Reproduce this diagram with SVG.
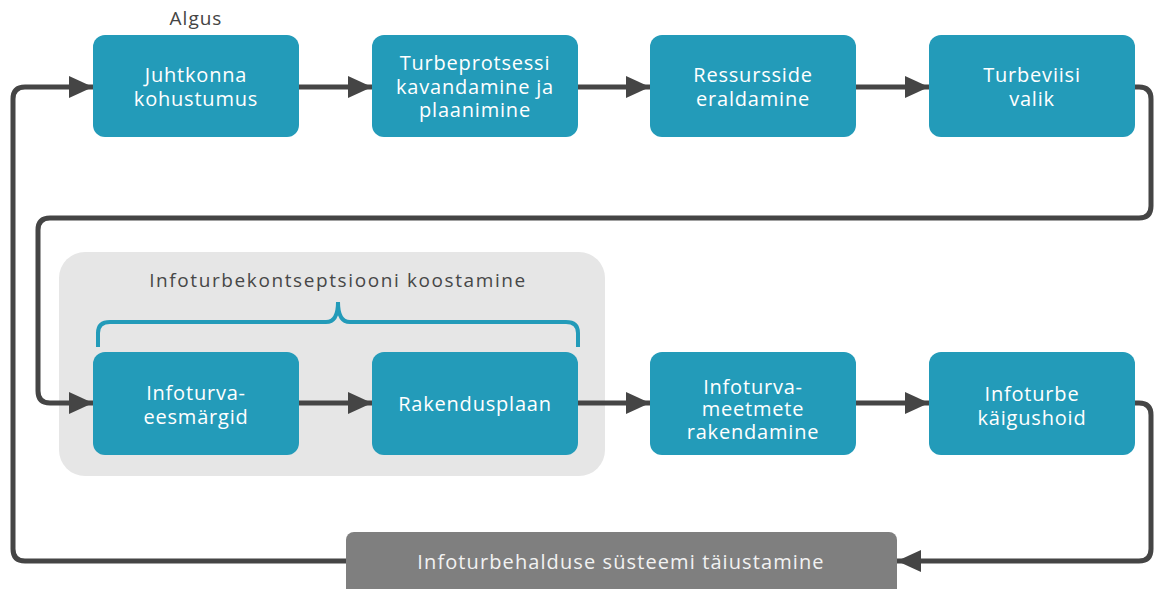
<svg xmlns="http://www.w3.org/2000/svg" width="1155" height="589" viewBox="0 0 1155 589">
<style>
  .node { fill: #239bb9; }
  .lbl { font-family: "Open Sans", "Liberation Sans", sans-serif; font-size: 20px; letter-spacing: 0.8px; fill: #ffffff; text-anchor: middle; }
  .conn { fill: none; stroke: #454545; stroke-width: 5; }
  .title { font-family: "Open Sans", "Liberation Sans", sans-serif; font-size: 19px; letter-spacing: 1.6px; fill: #474747; text-anchor: middle; }
</style>
<defs>
  <marker id="arrow" markerUnits="userSpaceOnUse" markerWidth="24" markerHeight="22" refX="24" refY="11" orient="auto">
    <path d="M0,0 L24,11 L0,22 z" fill="#454545"/>
  </marker>
</defs>
<rect width="1155" height="589" fill="#ffffff"/>

<g id="group-panel">
  <rect x="59" y="252" width="546" height="224" rx="26" fill="#e6e6e6"/>
  <text class="title" x="338" y="287">Infoturbekontseptsiooni koostamine</text>
  <path d="M98,347 V333 Q98,322 110,322 H326 Q338,322 338,302 Q338,322 350,322 H566 Q578,322 578,333 V347" fill="none" stroke="#239bb9" stroke-width="4"/>
</g>

<g id="connectors">
  <path class="conn" d="M347,561 H25 Q13,561 13,549 V99 Q13,87 25,87 H93" marker-end="url(#arrow)"/>
  <path class="conn" d="M299,87 H372" marker-end="url(#arrow)"/>
  <path class="conn" d="M578,87 H650" marker-end="url(#arrow)"/>
  <path class="conn" d="M856,87 H929" marker-end="url(#arrow)"/>
  <path class="conn" d="M1135,87 H1139 Q1151,87 1151,99 V206 Q1151,218 1139,218 H50 Q38,218 38,230 V391 Q38,403 50,403 H93" marker-end="url(#arrow)"/>
  <path class="conn" d="M299,403 H372" marker-end="url(#arrow)"/>
  <path class="conn" d="M578,403 H650" marker-end="url(#arrow)"/>
  <path class="conn" d="M856,403 H929" marker-end="url(#arrow)"/>
  <path class="conn" d="M1135,403 H1139 Q1151,403 1151,415 V549 Q1151,561 1139,561 H897" marker-end="url(#arrow)"/>
</g>

<g id="start-label">
  <text x="196" y="25" font-family="'Open Sans', 'Liberation Sans', sans-serif" font-size="19" letter-spacing="1" fill="#444444" text-anchor="middle">Algus</text>
</g>

<g id="n1">
  <rect class="node" x="93" y="35" width="206" height="102" rx="12"/>
  <text class="lbl" x="196" y="82">Juhtkonna</text>
  <text class="lbl" x="196" y="106">kohustumus</text>
</g>
<g id="n2">
  <rect class="node" x="372" y="35" width="206" height="102" rx="12"/>
  <text class="lbl" x="475" y="70">Turbeprotsessi</text>
  <text class="lbl" x="475" y="94">kavandamine ja</text>
  <text class="lbl" x="475" y="117">plaanimine</text>
</g>
<g id="n3">
  <rect class="node" x="650" y="35" width="206" height="102" rx="12"/>
  <text class="lbl" x="753" y="82">Ressursside</text>
  <text class="lbl" x="753" y="106">eraldamine</text>
</g>
<g id="n4">
  <rect class="node" x="929" y="35" width="206" height="102" rx="12"/>
  <text class="lbl" x="1032" y="82">Turbeviisi</text>
  <text class="lbl" x="1032" y="106">valik</text>
</g>

<g id="n5">
  <rect class="node" x="93" y="352" width="206" height="103" rx="12"/>
  <text class="lbl" x="196" y="400">Infoturva-</text>
  <text class="lbl" x="196" y="424">eesmärgid</text>
</g>
<g id="n6">
  <rect class="node" x="372" y="352" width="206" height="103" rx="12"/>
  <text class="lbl" x="475" y="411">Rakendusplaan</text>
</g>
<g id="n7">
  <rect class="node" x="650" y="352" width="206" height="103" rx="12"/>
  <text class="lbl" x="753" y="394">Infoturva-</text>
  <text class="lbl" x="753" y="416">meetmete</text>
  <text class="lbl" x="753" y="439">rakendamine</text>
</g>
<g id="n8">
  <rect class="node" x="929" y="352" width="206" height="103" rx="12"/>
  <text class="lbl" x="1032" y="401">Infoturbe</text>
  <text class="lbl" x="1032" y="425">käigushoid</text>
</g>

<g id="n9">
  <rect x="346" y="532" width="551" height="70" rx="8" fill="#7f7f7f"/>
  <text x="621" y="569" font-family="'Open Sans', 'Liberation Sans', sans-serif" font-size="20" letter-spacing="1.1" fill="#f2f2f2" text-anchor="middle">Infoturbehalduse süsteemi täiustamine</text>
</g>
</svg>
